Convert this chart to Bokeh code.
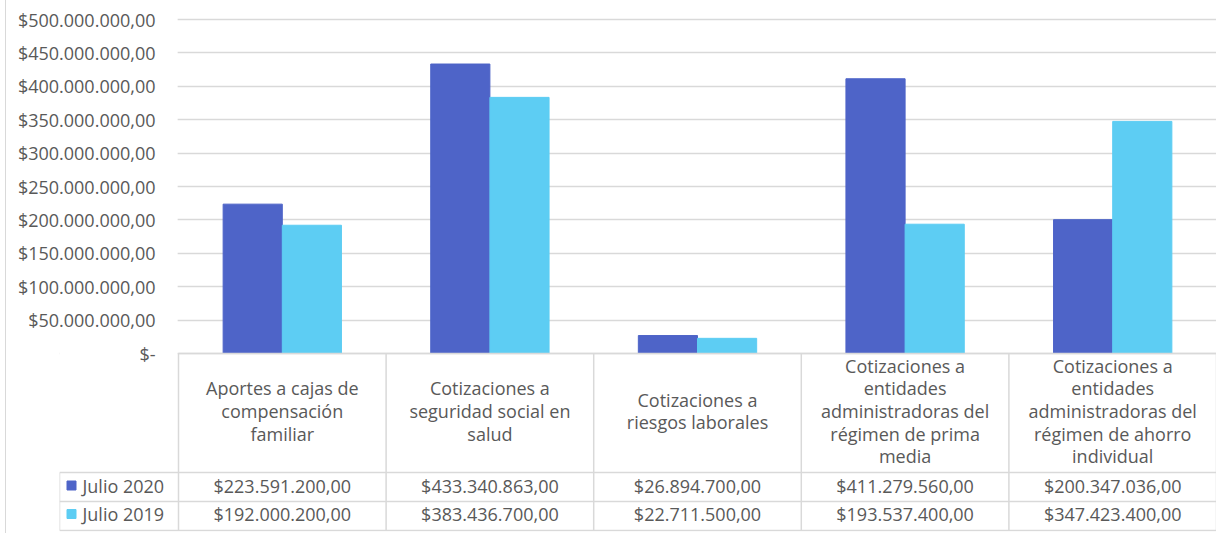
from bokeh.plotting import figure
from bokeh.models import Range1d, FixedTicker
from bokeh.core.properties import value
from bokeh.embed import file_html
from bokeh.resources import INLINE

categories = [
    "Aportes a cajas de\ncompensación\nfamiliar",
    "Cotizaciones a\nseguridad social en\nsalud",
    "Cotizaciones a\nriesgos laborales",
    "Cotizaciones a\nentidades\nadministradoras del\nrégimen de prima\nmedia",
    "Cotizaciones a\nentidades\nadministradoras del\nrégimen de ahorro\nindividual",
]
series_names = ["Julio 2020", "Julio 2019"]
julio_2020 = [223591200.00, 433340863.00, 26894700.00, 411279560.00, 200347036.00]
julio_2019 = [192000200.00, 383436700.00, 22711500.00, 193537400.00, 347423400.00]
y_ticks = [0, 50e6, 100e6, 150e6, 200e6, 250e6, 300e6, 350e6, 400e6, 450e6, 500e6]
y_tick_labels = ["$-", "$50.000.000,00", "$100.000.000,00", "$150.000.000,00",
                 "$200.000.000,00", "$250.000.000,00", "$300.000.000,00",
                 "$350.000.000,00", "$400.000.000,00", "$450.000.000,00",
                 "$500.000.000,00"]

C2020 = "#4E64C8"
C2019 = "#5DCDF3"
TXT = "#595959"
GRID = "#D9D9D9"
FONT = value("Open Sans")
FS = "18px"


def fmt(v):
    s = f"{v:,.2f}"
    s = s.replace(",", "X").replace(".", ",").replace("X", ".")
    return "$" + s


n = len(categories)
centers = [i + 0.5 for i in range(n)]

# pixel geometry helpers (screen px -> data)
ZERO_PX = 353.0
ppv = 334 / 500e6          # px per value unit
def vy(px):
    return (ZERO_PX - px) / ppv

cat_px = 207.6
leg_w = 119 / cat_px

y_top = vy(10)
y_bot = vy(531)

p = figure(width=1211, height=533, output_backend="svg", toolbar_location=None,
           x_range=Range1d(-leg_w, n), y_range=Range1d(y_bot, y_top),
           min_border_left=53, min_border_right=1, min_border_top=10,
           min_border_bottom=2)
p.styles = {"margin-left": "5px", "border-left": "1px solid #D9D9D9"}
p.outline_line_color = None
p.xaxis.visible = False
p.xgrid.visible = False
p.yaxis.ticker = FixedTicker(ticks=y_ticks)
p.yaxis.major_label_overrides = {t: l for t, l in zip(y_ticks, y_tick_labels)}
p.yaxis.axis_line_color = None
p.yaxis.major_tick_line_color = None
p.yaxis.minor_tick_line_color = None
p.yaxis.major_tick_out = 0
p.yaxis.major_tick_in = 0
p.yaxis.major_label_standoff = -96
p.yaxis.major_label_text_font = "Open Sans"
p.yaxis.major_label_text_font_size = FS
p.yaxis.major_label_text_color = TXT
p.ygrid.grid_line_color = GRID
p.ygrid.grid_line_width = 1.5

# mask the grid in the legend column region (left of the categories)
p.quad(left=[-leg_w], right=[-0.004], bottom=[vy(356)], top=[y_top],
       fill_color="white", line_color=None)

bw = 0.285
p.vbar(x=[c - bw / 2 for c in centers], top=julio_2020, width=bw, color=C2020)
p.vbar(x=[c + bw / 2 for c in centers], top=julio_2019, width=bw, color=C2019)

# ---- data table ----
h_top, h_bot, r1_bot, r2_bot = vy(353), vy(472), vy(501), vy(530)
xs = list(range(n + 1))
p.segment(x0=xs, y0=[h_top] * len(xs), x1=xs, y1=[r2_bot] * len(xs),
          line_color=GRID, line_width=1.5)
p.segment(x0=[-leg_w], y0=[h_bot], x1=[-leg_w], y1=[r2_bot],
          line_color=GRID, line_width=1.5)
p.segment(x0=[0, -leg_w, -leg_w, -leg_w], y0=[h_top, h_bot, r1_bot, r2_bot],
          x1=[n] * 4, y1=[h_top, h_bot, r1_bot, r2_bot],
          line_color=GRID, line_width=1.5)

p.text(x=centers, y=[vy(410.5)] * n, text=categories,
       text_align="center", text_baseline="middle", text_line_height=0.94,
       text_font=FONT, text_font_size=FS, text_color=TXT)

row_y = [vy(485), vy(513.5)]
colors = [C2020, C2019]
for ry, vals, col, name in zip(row_y, [julio_2020, julio_2019], colors, series_names):
    p.scatter(x=[-leg_w + 12 / cat_px], y=[ry], marker="square", size=9,
              color=col)
    p.text(x=[-leg_w + 23 / cat_px], y=[ry], text=[name], text_align="left",
           text_baseline="middle", text_font=FONT, text_font_size=FS,
           text_color=TXT)
    p.text(x=centers, y=[ry] * n, text=[fmt(v) for v in vals],
           text_align="center", text_baseline="middle", text_font=FONT,
           text_font_size=FS, text_color=TXT)

open("out.html", "w").write(file_html(p, INLINE))
